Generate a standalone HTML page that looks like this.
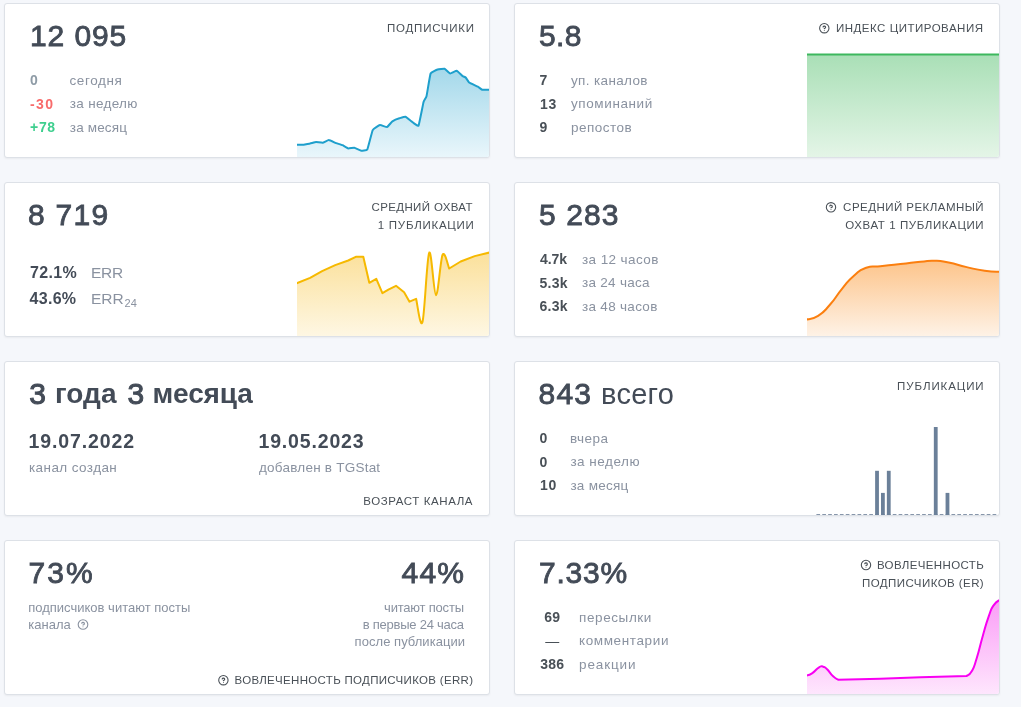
<!DOCTYPE html>
<html lang="ru">
<head>
<meta charset="utf-8">
<title>Stats</title>
<style>
*{box-sizing:border-box;margin:0;padding:0}
html,body{width:1021px;height:707px;overflow:hidden}
body{background:#f5f7fb;font-family:"Liberation Sans",sans-serif;color:#495057;position:relative}
.card{position:absolute;width:486px;height:155px;background:#fff;border:1px solid #dde1e7;border-radius:3px;box-shadow:0 1px 2px 0 rgba(0,0,0,.05)}
#wrap{position:absolute;left:0;top:0;width:1021px;height:707px;will-change:transform}
.t{position:absolute;white-space:nowrap;line-height:1}
.big{font-size:30px;font-weight:normal;color:#434b57;letter-spacing:1.3px;-webkit-text-stroke:.85px #434b57}
.bb{font-size:28px;font-weight:bold;color:#434b57}
.vs{font-size:29px;color:#434b57}
.hd{font-size:11.5px;color:#495057;text-transform:uppercase;letter-spacing:.2px}
.n{font-size:14px;font-weight:bold;color:#495057;letter-spacing:.3px}
.l{font-size:13.5px;color:#8a92a0;letter-spacing:.3px}
.n16{font-size:16px;font-weight:bold;color:#434b57;letter-spacing:.3px}
.l16{font-size:15.5px;color:#8a92a0;letter-spacing:.2px}
.sub{font-size:11px;position:relative;top:3.5px;margin-left:1px}
.d20{font-size:19.5px;font-weight:bold;color:#434b57;letter-spacing:.3px}
.s{font-size:13px;color:#8a92a0;letter-spacing:.1px}
.chart{position:absolute;display:block;border-bottom-right-radius:2px}
.ic{position:absolute;display:block}
</style>
</head>
<body>
<div class="card" style="left:4px;top:3px"></div>
<div class="card" style="left:514px;top:3px"></div>
<div class="card" style="left:4px;top:182px"></div>
<div class="card" style="left:514px;top:182px"></div>
<div class="card" style="left:4px;top:361px"></div>
<div class="card" style="left:514px;top:361px"></div>
<div class="card" style="left:4px;top:540px"></div>
<div class="card" style="left:514px;top:540px"></div>
<div id="wrap">
<div class="t big" id="c1big" style="left:30.00px;top:20.61px;letter-spacing:0.900px">12 095</div>
<div class="t hd" id="c1hd" style="right:546.25px;top:23.22px;letter-spacing:0.755px">Подписчики</div>
<div class="t n" id="c1n1" style="left:30.00px;top:73.15px;color:#8e9ba6;letter-spacing:0.300px">0</div>
<div class="t l" id="c1l1" style="left:69.40px;top:73.57px;letter-spacing:0.632px">сегодня</div>
<div class="t n" id="c1n2" style="left:30.00px;top:97.05px;color:#f86b6b;letter-spacing:1.400px">-30</div>
<div class="t l" id="c1l2" style="left:69.80px;top:97.47px;letter-spacing:0.325px">за неделю</div>
<div class="t n" id="c1n3" style="left:30.00px;top:120.15px;color:#3ecf8e;letter-spacing:0.700px">+78</div>
<div class="t l" id="c1l3" style="left:69.80px;top:120.57px;letter-spacing:0.157px">за месяц</div>
<svg class="chart" style="left:297px;top:55px" width="192" height="102" viewBox="297 55 192 102">
<defs><linearGradient id="g1" gradientUnits="userSpaceOnUse" x1="0" y1="68" x2="0" y2="157"><stop offset="0" stop-color="#a3d8ea"/><stop offset="1" stop-color="#e9f6fb"/></linearGradient></defs>
<path d="M296.0 144.8 C296.4 144.8 303.0 144.9 303.7 144.8 C304.4 144.7 309.5 143.5 310.1 143.4 C310.7 143.3 315.5 142.0 316.1 142.0 C316.7 142.0 322.1 142.9 322.7 142.8 C323.3 142.7 328.2 140.1 328.8 140.1 C329.4 140.1 334.5 142.5 335.2 142.8 C335.9 143.1 342.0 144.9 342.6 145.2 C343.2 145.5 347.6 148.3 348.2 148.4 C348.8 148.5 353.7 147.7 354.3 147.8 C354.9 147.9 360.1 150.5 360.7 150.6 C361.3 150.7 366.7 150.4 367.3 149.4 C367.9 148.4 372.1 131.3 372.7 130.1 C373.3 128.9 379.3 125.2 380.0 125.1 C380.7 124.9 386.4 127.3 387.0 127.1 C387.6 126.9 391.8 121.7 392.4 121.3 C393.0 120.9 398.7 118.5 399.4 118.3 C400.1 118.1 404.9 116.6 405.5 116.8 C406.1 117.0 410.9 120.9 411.5 121.3 C412.1 121.7 417.9 126.7 418.5 125.7 C419.1 124.7 423.1 103.7 423.5 102.2 C423.9 100.7 426.1 97.6 426.5 96.2 C426.9 94.8 430.0 74.8 430.6 73.5 C431.2 72.2 436.9 69.7 437.6 69.5 C438.3 69.3 444.0 68.5 444.6 68.7 C445.2 68.9 449.6 73.4 450.2 73.5 C450.8 73.6 456.1 70.6 456.7 70.7 C457.3 70.8 462.2 75.8 462.7 76.1 C463.1 76.4 465.4 77.2 465.7 77.5 C466.0 77.8 468.5 82.0 469.1 82.5 C469.7 83.0 477.1 86.3 477.8 86.7 C478.5 87.1 481.6 89.5 482.2 89.7 C482.8 89.9 489.6 89.7 490.0 89.7 L490.0 159.0 L296.0 159.0 Z" fill="url(#g1)"/>
<path d="M296.0 144.8 C296.4 144.8 303.0 144.9 303.7 144.8 C304.4 144.7 309.5 143.5 310.1 143.4 C310.7 143.3 315.5 142.0 316.1 142.0 C316.7 142.0 322.1 142.9 322.7 142.8 C323.3 142.7 328.2 140.1 328.8 140.1 C329.4 140.1 334.5 142.5 335.2 142.8 C335.9 143.1 342.0 144.9 342.6 145.2 C343.2 145.5 347.6 148.3 348.2 148.4 C348.8 148.5 353.7 147.7 354.3 147.8 C354.9 147.9 360.1 150.5 360.7 150.6 C361.3 150.7 366.7 150.4 367.3 149.4 C367.9 148.4 372.1 131.3 372.7 130.1 C373.3 128.9 379.3 125.2 380.0 125.1 C380.7 124.9 386.4 127.3 387.0 127.1 C387.6 126.9 391.8 121.7 392.4 121.3 C393.0 120.9 398.7 118.5 399.4 118.3 C400.1 118.1 404.9 116.6 405.5 116.8 C406.1 117.0 410.9 120.9 411.5 121.3 C412.1 121.7 417.9 126.7 418.5 125.7 C419.1 124.7 423.1 103.7 423.5 102.2 C423.9 100.7 426.1 97.6 426.5 96.2 C426.9 94.8 430.0 74.8 430.6 73.5 C431.2 72.2 436.9 69.7 437.6 69.5 C438.3 69.3 444.0 68.5 444.6 68.7 C445.2 68.9 449.6 73.4 450.2 73.5 C450.8 73.6 456.1 70.6 456.7 70.7 C457.3 70.8 462.2 75.8 462.7 76.1 C463.1 76.4 465.4 77.2 465.7 77.5 C466.0 77.8 468.5 82.0 469.1 82.5 C469.7 83.0 477.1 86.3 477.8 86.7 C478.5 87.1 481.6 89.5 482.2 89.7 C482.8 89.9 489.6 89.7 490.0 89.7" fill="none" stroke="#1e9fcc" stroke-width="2" stroke-linejoin="round" stroke-linecap="butt"/>
</svg>
<div class="t big" id="c2big" style="left:539.00px;top:20.61px;letter-spacing:0.400px">5.8</div>
<div class="t hd" id="c2hd" style="right:37.49px;top:23.22px;letter-spacing:0.510px">Индекс цитирования</div>
<svg class="ic" style="left:816px;top:20px" width="16" height="16" viewBox="0 0 16 16" fill="none" stroke="#495057" stroke-width="2.3" stroke-linecap="round" stroke-linejoin="round"><g transform="translate(2.68 2.58) scale(0.4682)"><circle cx="12" cy="12" r="10"/><path d="M9.4 9.3a2.8 2.8 0 0 1 5.4 .9c0 1.9-2.8 2.8-2.8 2.8" stroke-width="2.5"/><line x1="12" y1="16.8" x2="12.01" y2="16.8" stroke-width="2"/></g></svg>
<div class="t n" id="c2n1" style="left:539.50px;top:73.15px;letter-spacing:0.300px">7</div>
<div class="t l" id="c2l1" style="left:571.00px;top:73.57px;letter-spacing:0.360px">уп. каналов</div>
<div class="t n" id="c2n2" style="left:540.00px;top:97.05px;letter-spacing:0.600px">13</div>
<div class="t l" id="c2l2" style="left:571.00px;top:97.47px;letter-spacing:0.598px">упоминаний</div>
<div class="t n" id="c2n3" style="left:539.50px;top:120.15px;letter-spacing:0.300px">9</div>
<div class="t l" id="c2l3" style="left:571.00px;top:120.57px;letter-spacing:0.475px">репостов</div>
<svg class="chart" style="left:807px;top:50px" width="192" height="107" viewBox="807 50 192 107">
<defs><linearGradient id="g2" gradientUnits="userSpaceOnUse" x1="0" y1="54" x2="0" y2="157"><stop offset="0" stop-color="#a9dfb6"/><stop offset="1" stop-color="#e4f5e7"/></linearGradient></defs>
<path d="M806.0 54.4 L1000.0 54.4 L1000.0 159.0 L806.0 159.0 Z" fill="url(#g2)"/>
<path d="M806.0 54.4 L1000.0 54.4" fill="none" stroke="#3db85e" stroke-width="2" stroke-linejoin="round" stroke-linecap="butt"/>
</svg>
<div class="t big" id="c3big" style="left:28.00px;top:199.60px;letter-spacing:1.250px">8 719</div>
<div class="t hd" id="c3hd1" style="right:548.15px;top:202.22px;letter-spacing:0.353px">Средний охват</div>
<div class="t hd" id="c3hd2" style="right:546.47px;top:220.12px;letter-spacing:0.733px">1 публикации</div>
<div class="t n16" id="c3n1" style="left:30.00px;top:264.86px;letter-spacing:0.350px">72.1%</div>
<div class="t l16" id="c3l1" style="left:91.00px;top:264.68px;letter-spacing:-0.300px">ERR</div>
<div class="t n16" id="c3n2" style="left:29.50px;top:291.06px;letter-spacing:0.300px">43.6%</div>
<div class="t l16" id="c3l2" style="left:91.00px;top:290.88px;letter-spacing:-0.050px">ERR<span class="sub">24</span></div>
<svg class="chart" style="left:297px;top:240px" width="192" height="96" viewBox="297 240 192 96">
<defs><linearGradient id="g3" gradientUnits="userSpaceOnUse" x1="0" y1="252" x2="0" y2="336"><stop offset="0" stop-color="#fbe09a"/><stop offset="1" stop-color="#fef7e3"/></linearGradient></defs>
<path d="M296.0 283.6 L310.1 277.8 L322.1 271.1 L335.2 265.1 L348.2 260.5 L356.3 256.7 L363.3 256.7 L369.3 282.8 L376.3 278.8 L382.4 293.2 L388.4 289.6 L396.0 285.8 L404.1 292.2 L409.5 301.7 L416.1 298.9 C417.2 302.7 420.3 329.6 422.5 321.9 C424.7 314.2 426.9 257.1 429.2 252.7 C431.4 248.2 433.8 294.9 436.0 295.2 C438.2 295.5 440.4 259.1 442.6 254.7 C444.8 250.2 448.1 266.2 449.2 268.5 L460.7 261.5 L474.7 256.1 L490.0 252.4 L490.0 338.0 L296.0 338.0 Z" fill="url(#g3)"/>
<path d="M296.0 283.6 L310.1 277.8 L322.1 271.1 L335.2 265.1 L348.2 260.5 L356.3 256.7 L363.3 256.7 L369.3 282.8 L376.3 278.8 L382.4 293.2 L388.4 289.6 L396.0 285.8 L404.1 292.2 L409.5 301.7 L416.1 298.9 C417.2 302.7 420.3 329.6 422.5 321.9 C424.7 314.2 426.9 257.1 429.2 252.7 C431.4 248.2 433.8 294.9 436.0 295.2 C438.2 295.5 440.4 259.1 442.6 254.7 C444.8 250.2 448.1 266.2 449.2 268.5 L460.7 261.5 L474.7 256.1 L490.0 252.4" fill="none" stroke="#f6b900" stroke-width="2" stroke-linejoin="round" stroke-linecap="butt"/>
</svg>
<div class="t big" id="c4big" style="left:539.00px;top:199.60px;letter-spacing:1.100px">5 283</div>
<div class="t hd" id="c4hd1" style="right:36.93px;top:202.22px;letter-spacing:0.465px">Средний рекламный</div>
<div class="t hd" id="c4hd2" style="right:36.81px;top:220.12px;letter-spacing:0.592px">Охват 1 публикации</div>
<svg class="ic" style="left:823px;top:199px" width="16" height="16" viewBox="0 0 16 16" fill="none" stroke="#495057" stroke-width="2.3" stroke-linecap="round" stroke-linejoin="round"><g transform="translate(2.38 2.68) scale(0.4682)"><circle cx="12" cy="12" r="10"/><path d="M9.4 9.3a2.8 2.8 0 0 1 5.4 .9c0 1.9-2.8 2.8-2.8 2.8" stroke-width="2.5"/><line x1="12" y1="16.8" x2="12.01" y2="16.8" stroke-width="2"/></g></svg>
<div class="t n" id="c4n1" style="left:540.00px;top:252.15px;letter-spacing:-0.034px">4.7k</div>
<div class="t l" id="c4l1" style="left:582.00px;top:252.57px;letter-spacing:0.400px">за 12 часов</div>
<div class="t n" id="c4n2" style="left:539.50px;top:276.05px;letter-spacing:0.300px">5.3k</div>
<div class="t l" id="c4l2" style="left:582.10px;top:276.47px;letter-spacing:0.261px">за 24 часа</div>
<div class="t n" id="c4n3" style="left:539.50px;top:299.15px;letter-spacing:0.300px">6.3k</div>
<div class="t l" id="c4l3" style="left:582.00px;top:299.57px;letter-spacing:0.300px">за 48 часов</div>
<svg class="chart" style="left:807px;top:250px" width="192" height="86" viewBox="807 250 192 86">
<defs><linearGradient id="g4" gradientUnits="userSpaceOnUse" x1="0" y1="260" x2="0" y2="336"><stop offset="0" stop-color="#fdc48a"/><stop offset="1" stop-color="#fef2e6"/></linearGradient></defs>
<path d="M806.0 319.6 C809.6 318.5 810.9 320.3 818.1 315.8 C825.3 311.3 822.9 312.7 830.1 304.5 C837.3 296.3 835.0 297.3 842.2 288.6 C849.4 279.9 847.0 281.6 854.2 275.4 C861.4 269.2 858.5 270.6 866.3 267.8 C874.1 265.0 870.1 267.3 880.3 266.2 C890.5 265.1 888.3 265.5 900.4 264.1 C912.5 262.8 910.3 262.7 920.5 261.7 C930.7 260.7 926.1 260.5 934.5 260.7 C942.9 260.9 938.9 260.6 948.6 262.5 C958.3 264.4 955.9 264.6 966.7 267.1 C977.5 269.6 974.7 269.3 984.7 270.7 C994.7 272.1 995.4 271.5 1000.0 271.8 L1000.0 338.0 L806.0 338.0 Z" fill="url(#g4)"/>
<path d="M806.0 319.6 C809.6 318.5 810.9 320.3 818.1 315.8 C825.3 311.3 822.9 312.7 830.1 304.5 C837.3 296.3 835.0 297.3 842.2 288.6 C849.4 279.9 847.0 281.6 854.2 275.4 C861.4 269.2 858.5 270.6 866.3 267.8 C874.1 265.0 870.1 267.3 880.3 266.2 C890.5 265.1 888.3 265.5 900.4 264.1 C912.5 262.8 910.3 262.7 920.5 261.7 C930.7 260.7 926.1 260.5 934.5 260.7 C942.9 260.9 938.9 260.6 948.6 262.5 C958.3 264.4 955.9 264.6 966.7 267.1 C977.5 269.6 974.7 269.3 984.7 270.7 C994.7 272.1 995.4 271.5 1000.0 271.8" fill="none" stroke="#fb7f0f" stroke-width="2" stroke-linejoin="round" stroke-linecap="butt"/>
</svg>
<div class="t big" id="c5a" style="left:29.25px;top:378.71px;-webkit-text-stroke-width:1px;letter-spacing:1.300px">3</div>
<div class="t bb" id="c5b" style="left:55.00px;top:380.40px;letter-spacing:0.030px">года</div>
<div class="t big" id="c5c" style="left:127.55px;top:378.71px;-webkit-text-stroke-width:1px;letter-spacing:1.300px">3</div>
<div class="t bb" id="c5d" style="left:152.50px;top:380.40px;letter-spacing:-0.140px">месяца</div>
<div class="t d20" id="c5d1" style="left:28.50px;top:431.59px;letter-spacing:0.879px">19.07.2022</div>
<div class="t d20" id="c5d2" style="left:258.50px;top:431.59px;letter-spacing:0.831px">19.05.2023</div>
<div class="t l" id="c5s1" style="left:29.00px;top:460.57px;letter-spacing:0.411px">канал создан</div>
<div class="t l" id="c5s2" style="left:259.00px;top:460.57px;letter-spacing:0.229px">добавлен в TGStat</div>
<div class="t hd" id="c5ft" style="right:547.90px;top:495.67px;letter-spacing:0.595px">Возраст канала</div>
<div class="t big" id="c6big" style="left:538.50px;top:378.71px;letter-spacing:1.225px">843</div>
<div class="t vs" id="c6v" style="left:601.00px;top:379.65px;letter-spacing:0.300px">всего</div>
<div class="t hd" id="c6hd" style="right:36.49px;top:381.22px;letter-spacing:0.907px">Публикации</div>
<div class="t n" id="c6n1" style="left:539.50px;top:431.15px;letter-spacing:0.300px">0</div>
<div class="t l" id="c6l1" style="left:570.00px;top:431.57px;letter-spacing:0.450px">вчера</div>
<div class="t n" id="c6n2" style="left:539.50px;top:455.05px;letter-spacing:0.300px">0</div>
<div class="t l" id="c6l2" style="left:570.40px;top:455.47px;letter-spacing:0.509px">за неделю</div>
<div class="t n" id="c6n3" style="left:540.00px;top:478.15px;letter-spacing:0.700px">10</div>
<div class="t l" id="c6l3" style="left:570.40px;top:478.57px;letter-spacing:0.275px">за месяц</div>
<svg class="chart" style="left:807px;top:420px" width="192" height="96" viewBox="807 420 192 96">
<rect x="816.40" y="514" width="3.7" height="1" fill="#8796aa"/>
<rect x="822.27" y="514" width="3.7" height="1" fill="#8796aa"/>
<rect x="828.14" y="514" width="3.7" height="1" fill="#8796aa"/>
<rect x="834.02" y="514" width="3.7" height="1" fill="#8796aa"/>
<rect x="839.89" y="514" width="3.7" height="1" fill="#8796aa"/>
<rect x="845.76" y="514" width="3.7" height="1" fill="#8796aa"/>
<rect x="851.63" y="514" width="3.7" height="1" fill="#8796aa"/>
<rect x="857.50" y="514" width="3.7" height="1" fill="#8796aa"/>
<rect x="863.38" y="514" width="3.7" height="1" fill="#8796aa"/>
<rect x="869.25" y="514" width="3.7" height="1" fill="#8796aa"/>
<rect x="875.12" y="514" width="3.7" height="1" fill="#8796aa"/>
<rect x="880.99" y="514" width="3.7" height="1" fill="#8796aa"/>
<rect x="886.86" y="514" width="3.7" height="1" fill="#8796aa"/>
<rect x="892.74" y="514" width="3.7" height="1" fill="#8796aa"/>
<rect x="898.61" y="514" width="3.7" height="1" fill="#8796aa"/>
<rect x="904.48" y="514" width="3.7" height="1" fill="#8796aa"/>
<rect x="910.35" y="514" width="3.7" height="1" fill="#8796aa"/>
<rect x="916.22" y="514" width="3.7" height="1" fill="#8796aa"/>
<rect x="922.10" y="514" width="3.7" height="1" fill="#8796aa"/>
<rect x="927.97" y="514" width="3.7" height="1" fill="#8796aa"/>
<rect x="933.84" y="514" width="3.7" height="1" fill="#8796aa"/>
<rect x="939.71" y="514" width="3.7" height="1" fill="#8796aa"/>
<rect x="945.58" y="514" width="3.7" height="1" fill="#8796aa"/>
<rect x="951.46" y="514" width="3.7" height="1" fill="#8796aa"/>
<rect x="957.33" y="514" width="3.7" height="1" fill="#8796aa"/>
<rect x="963.20" y="514" width="3.7" height="1" fill="#8796aa"/>
<rect x="969.07" y="514" width="3.7" height="1" fill="#8796aa"/>
<rect x="974.94" y="514" width="3.7" height="1" fill="#8796aa"/>
<rect x="980.82" y="514" width="3.7" height="1" fill="#8796aa"/>
<rect x="986.69" y="514" width="3.7" height="1" fill="#8796aa"/>
<rect x="992.56" y="514" width="3.7" height="1" fill="#8796aa"/>
<rect x="875.12" y="470.8" width="3.8" height="44.2" fill="#6b8099"/>
<rect x="880.99" y="492.9" width="3.8" height="22.1" fill="#6b8099"/>
<rect x="886.86" y="470.8" width="3.8" height="44.2" fill="#6b8099"/>
<rect x="933.84" y="427.0" width="3.8" height="88.0" fill="#6b8099"/>
<rect x="945.58" y="492.9" width="3.8" height="22.1" fill="#6b8099"/>
</svg>
<div class="t big" id="c7big1" style="left:28.50px;top:557.61px;letter-spacing:2.100px">73%</div>
<div class="t big" id="c7big2" style="right:555.80px;top:557.61px;letter-spacing:1.200px">44%</div>
<div class="t s" id="c7s1" style="left:28.20px;top:600.70px;letter-spacing:0.007px">подписчиков читают посты</div>
<div class="t s" id="c7s2" style="left:28.20px;top:617.70px;letter-spacing:0.020px">канала</div>
<svg class="ic" style="left:75px;top:616px" width="16" height="16" viewBox="0 0 16 16" fill="none" stroke="#8a92a0" stroke-width="2.3" stroke-linecap="round" stroke-linejoin="round"><g transform="translate(2.22 2.72) scale(0.4818)"><circle cx="12" cy="12" r="10"/><path d="M9.4 9.3a2.8 2.8 0 0 1 5.4 .9c0 1.9-2.8 2.8-2.8 2.8" stroke-width="2.5"/><line x1="12" y1="16.8" x2="12.01" y2="16.8" stroke-width="2"/></g></svg>
<div class="t s" id="c7r1" style="right:557.20px;top:600.70px;letter-spacing:-0.204px">читают посты</div>
<div class="t s" id="c7r2" style="right:557.24px;top:617.70px;letter-spacing:-0.242px">в первые 24 часа</div>
<div class="t s" id="c7r3" style="right:555.96px;top:634.70px;letter-spacing:0.042px">после публикации</div>
<div class="t hd" id="c7ft" style="right:547.69px;top:674.97px;letter-spacing:0.314px">Вовлеченность подписчиков (ERR)</div>
<svg class="ic" style="left:215px;top:672px" width="16" height="16" viewBox="0 0 16 16" fill="none" stroke="#495057" stroke-width="2.3" stroke-linecap="round" stroke-linejoin="round"><g transform="translate(2.78 2.58) scale(0.4682)"><circle cx="12" cy="12" r="10"/><path d="M9.4 9.3a2.8 2.8 0 0 1 5.4 .9c0 1.9-2.8 2.8-2.8 2.8" stroke-width="2.5"/><line x1="12" y1="16.8" x2="12.01" y2="16.8" stroke-width="2"/></g></svg>
<div class="t big" id="c8big" style="left:539.00px;top:557.61px;letter-spacing:0.800px">7.33%</div>
<div class="t hd" id="c8hd1" style="right:36.93px;top:560.22px;letter-spacing:0.367px">Вовлеченность</div>
<div class="t hd" id="c8hd2" style="right:36.86px;top:578.12px;letter-spacing:0.436px">Подписчиков (ER)</div>
<svg class="ic" style="left:858px;top:557px" width="16" height="16" viewBox="0 0 16 16" fill="none" stroke="#495057" stroke-width="2.3" stroke-linecap="round" stroke-linejoin="round"><g transform="translate(2.38 2.38) scale(0.4682)"><circle cx="12" cy="12" r="10"/><path d="M9.4 9.3a2.8 2.8 0 0 1 5.4 .9c0 1.9-2.8 2.8-2.8 2.8" stroke-width="2.5"/><line x1="12" y1="16.8" x2="12.01" y2="16.8" stroke-width="2"/></g></svg>
<div class="t n" id="c8n1" style="left:522.3px;width:60px;text-align:center;top:610.15px">69</div>
<div class="t l" id="c8l1" style="left:579.00px;top:610.57px;letter-spacing:0.600px">пересылки</div>
<div class="t n" id="c8n2" style="left:522.3px;width:60px;text-align:center;top:634.05px"><span style="font-weight:normal">—</span></div>
<div class="t l" id="c8l2" style="left:579.00px;top:634.47px;letter-spacing:0.620px">комментарии</div>
<div class="t n" id="c8n3" style="left:522.3px;width:60px;text-align:center;top:657.15px">386</div>
<div class="t l" id="c8l3" style="left:579.00px;top:657.57px;letter-spacing:0.867px">реакции</div>
<svg class="chart" style="left:807px;top:595px" width="192" height="99" viewBox="807 595 192 99">
<defs><linearGradient id="g8" gradientUnits="userSpaceOnUse" x1="0" y1="600" x2="0" y2="694"><stop offset="0" stop-color="#fa9df6"/><stop offset="1" stop-color="#fee6fd"/></linearGradient></defs>
<path d="M806.0 675.8 C807.8 675.0 808.1 675.8 812.0 673.3 C815.9 670.8 815.8 669.3 819.1 667.3 C822.4 665.3 820.7 666.1 823.1 666.7 C825.5 667.3 824.1 666.4 827.1 669.3 C830.1 672.2 829.8 673.2 833.1 676.3 C836.4 679.4 836.7 678.7 838.2 679.7 L880.3 678.7 L920.5 677.3 L966.7 675.9 C968.2 674.5 968.7 676.6 971.7 671.3 C974.7 666.0 973.4 668.8 976.7 658.3 C980.0 647.8 979.1 648.9 982.7 636.2 C986.3 623.5 985.5 625.4 988.8 616.1 C992.1 606.8 990.4 610.0 993.8 605.1 C997.2 600.2 998.1 601.4 1000.0 599.8 L1000.0 696.0 L806.0 696.0 Z" fill="url(#g8)"/>
<path d="M806.0 675.8 C807.8 675.0 808.1 675.8 812.0 673.3 C815.9 670.8 815.8 669.3 819.1 667.3 C822.4 665.3 820.7 666.1 823.1 666.7 C825.5 667.3 824.1 666.4 827.1 669.3 C830.1 672.2 829.8 673.2 833.1 676.3 C836.4 679.4 836.7 678.7 838.2 679.7 L880.3 678.7 L920.5 677.3 L966.7 675.9 C968.2 674.5 968.7 676.6 971.7 671.3 C974.7 666.0 973.4 668.8 976.7 658.3 C980.0 647.8 979.1 648.9 982.7 636.2 C986.3 623.5 985.5 625.4 988.8 616.1 C992.1 606.8 990.4 610.0 993.8 605.1 C997.2 600.2 998.1 601.4 1000.0 599.8" fill="none" stroke="#f800f2" stroke-width="2" stroke-linejoin="round" stroke-linecap="butt"/>
</svg>
</div>
</body>
</html>
